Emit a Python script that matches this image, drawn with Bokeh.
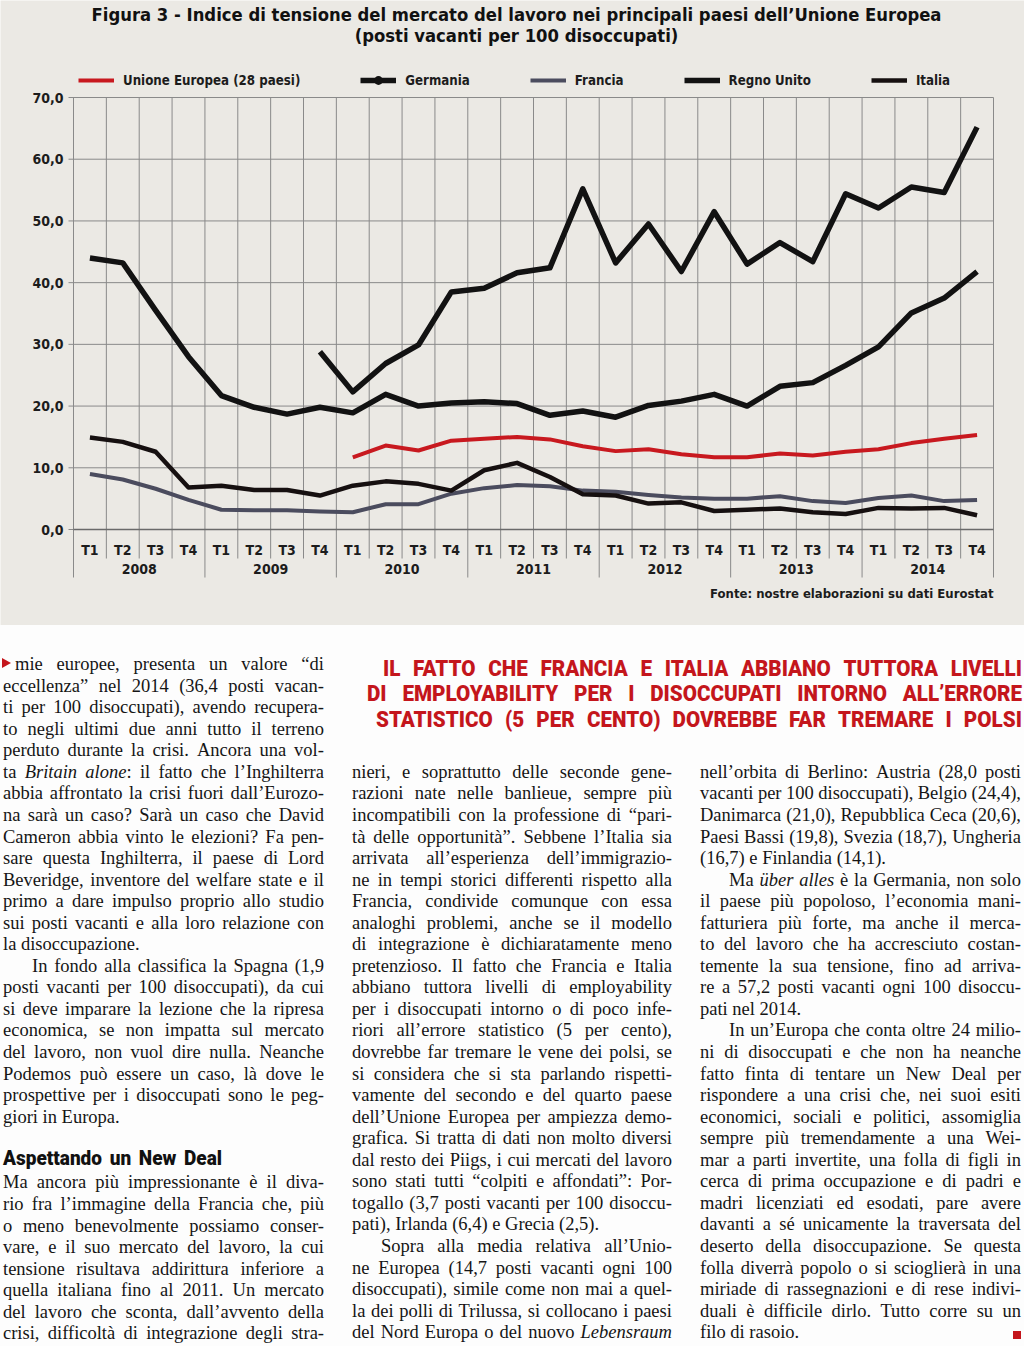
import re
from bokeh.plotting import figure
from bokeh.models import Range1d, Legend, LegendItem, Div
from bokeh.layouts import column
from bokeh.core.properties import value
from bokeh.embed import file_html
from bokeh.resources import INLINE

# ---------------- data ----------------
years = ["2008", "2009", "2010", "2011", "2012", "2013", "2014"]
quarters = ["T1", "T2", "T3", "T4"]
y_ticks = [0, 10, 20, 30, 40, 50, 60, 70]

eu = [None] * 8 + [11.7, 13.6, 12.8, 14.4, 14.7, 15.0, 14.6, 13.5, 12.7, 13.0,
                   12.2, 11.7, 11.7, 12.3, 12.0, 12.6, 13.0, 14.0, 14.7, 15.3]
germania = [None] * 7 + [28.8, 22.3, 26.9, 29.9, 38.5, 39.1, 41.6, 42.4, 55.2, 43.2,
                         49.5, 41.8, 51.5, 43.0, 46.5, 43.4, 54.4, 52.1, 55.5, 54.6, 65.2]
francia = [9.0, 8.1, 6.6, 4.8, 3.2, 3.1, 3.1, 2.9, 2.8, 4.1, 4.1, 5.8, 6.7, 7.2,
           7.0, 6.3, 6.1, 5.6, 5.2, 5.0, 5.0, 5.4, 4.6, 4.3, 5.1, 5.5, 4.6, 4.8]
regno_unito = [44.0, 43.2, 35.5, 28.0, 21.7, 19.8, 18.7, 19.8, 18.9, 21.9, 20.0, 20.5, 20.7, 20.4,
               18.5, 19.2, 18.2, 20.1, 20.8, 21.9, 20.0, 23.2, 23.8, 26.6, 29.6, 35.1, 37.5, 41.8]
italia = [14.9, 14.2, 12.6, 6.8, 7.1, 6.4, 6.4, 5.5, 7.1, 7.8, 7.4, 6.3, 9.6, 10.8,
          8.5, 5.7, 5.5, 4.2, 4.4, 3.0, 3.2, 3.4, 2.8, 2.5, 3.5, 3.4, 3.5, 2.3]

series_labels = ["Unione Europea (28 paesi)", "Germania", "Francia", "Regno Unito", "Italia"]

title_lines = ["Figura 3 - Indice di tensione del mercato del lavoro nei principali paesi dell’Unione Europea",
               "(posti vacanti per 100 disoccupati)"]
source_text = "Fonte: nostre elaborazioni su dati Eurostat"

# ---------------- geometry ----------------
W, H = 1024, 625
X_LEFT, X_RIGHT = 73, 993
Y_ZERO, Y_TOP = 529, 97
N = len(years) * len(quarters)
QW = (X_RIGHT - X_LEFT) / N
PPU = (Y_ZERO - Y_TOP) / 70.0


def dx(px):
    return (px - X_LEFT) / QW


def dy(py):
    return (Y_ZERO - py) / PPU


BG = "#ebe9e4"
GRID = "#8a8a8a"
INK = "#1c1c1c"
CF = "DejaVu Sans Condensed"

p = figure(width=W, height=H, x_range=Range1d(dx(0), dx(W)), y_range=Range1d(dy(H), dy(0)),
           output_backend="svg", toolbar_location=None, x_axis_location=None, y_axis_location=None,
           min_border=0, background_fill_color=BG, border_fill_color=BG, outline_line_color=None)
p.grid.visible = False

# horizontal grid + tick marks
p.segment(x0=[dx(68)] * len(y_ticks), x1=[N] * len(y_ticks), y0=y_ticks, y1=y_ticks,
          line_color=GRID, line_width=1)
# vertical quarter / year separators
bounds = list(range(N + 1))
p.segment(x0=bounds, x1=bounds, y0=[dy(577) if b % 4 == 0 else dy(558) for b in bounds],
          y1=[70] * len(bounds), line_color=GRID, line_width=1)
p.segment(x0=[0], x1=[N], y0=[0], y1=[0], line_color="#6a6a6a", line_width=1.6)

# y labels
p.text(x=[dx(63)] * len(y_ticks), y=y_ticks, text=[f"{v:.1f}".replace(".", ",") for v in y_ticks],
       text_font=value(CF), text_font_size="14px", text_font_style="bold", text_align="right",
       text_baseline="middle", text_color=INK)
# quarter labels and years
qx = [i + 0.5 for i in range(N)]
p.text(x=qx, y=[dy(549)] * N, text=[quarters[i % 4] for i in range(N)], text_font=value(CF),
       text_font_size="14px", text_font_style="bold", text_align="center", text_baseline="middle",
       text_color=INK)
p.text(x=[4 * k + 2 for k in range(len(years))], y=[dy(568)] * len(years), text=years,
       text_font=value(CF), text_font_size="14px", text_font_style="bold", text_align="center",
       text_baseline="middle", text_color=INK)
# title
p.text(x=[dx(516)] * 2, y=[dy(14), dy(35)], text=title_lines, text_font=value(CF),
       text_font_size="18.3px", text_font_style="bold", text_align="center", text_baseline="middle",
       text_color="#111111")
# source
p.text(x=[dx(993)], y=[dy(593)], text=[source_text], text_font=value(CF), text_font_size="13px",
       text_font_style="bold", text_align="right", text_baseline="middle", text_color=INK)


def pts(vals):
    xs = [i + 0.5 for i, v in enumerate(vals) if v is not None]
    ys = [v for v in vals if v is not None]
    return xs, ys


r_fr = p.line(*pts(francia), line_color="#4b4c5e", line_width=4, line_join="round")
r_it = p.line(*pts(italia), line_color="#161010", line_width=4.5, line_join="round")
r_eu = p.line(*pts(eu), line_color="#c8191f", line_width=4, line_join="round")
r_uk = p.line(*pts(regno_unito), line_color="#121212", line_width=5.5, line_join="round")
r_de = p.line(*pts(germania), line_color="#121212", line_width=5.5, line_join="round")
r_de_m = p.scatter(*pts(germania), size=0, marker="circle", fill_color="#121212", line_color=None)

legend = Legend(items=[LegendItem(label=series_labels[0], renderers=[r_eu]),
                       LegendItem(label=series_labels[1], renderers=[r_de, r_de_m]),
                       LegendItem(label=series_labels[2], renderers=[r_fr]),
                       LegendItem(label=series_labels[3], renderers=[r_uk]),
                       LegendItem(label=series_labels[4], renderers=[r_it])],
                orientation="horizontal", location=(78, H - 91), glyph_width=36, glyph_height=22,
                label_height=22, label_standoff=9, spacing=60, padding=0, margin=0,
                border_line_color=None, background_fill_alpha=0,
                label_text_font=CF, label_text_font_size="13.2px", label_text_font_style="bold",
                label_text_color=INK)
p.add_layout(legend)

# ---------------- article text ----------------
left_col = [
    ("mie europee, presenta un valore “di", "j"),
    ("eccellenza” nel 2014 (36,4 posti vacan-", "j"),
    ("ti per 100 disoccupati), avendo recupera-", "j"),
    ("to negli ultimi due anni tutto il terreno", "j"),
    ("perduto durante la crisi. Ancora una vol-", "j"),
    ("ta _Britain_ _alone_: il fatto che l’Inghilterra", "j"),
    ("abbia affrontato la crisi fuori dall’Eurozo-", "j"),
    ("na sarà un caso? Sarà un caso che David", "j"),
    ("Cameron abbia vinto le elezioni? Fa pen-", "j"),
    ("sare questa Inghilterra, il paese di Lord", "j"),
    ("Beveridge, inventore del welfare state e il", "j"),
    ("primo a dare impulso proprio allo studio", "j"),
    ("sui posti vacanti e alla loro relazione con", "j"),
    ("la disoccupazione.", "l"),
    ("In fondo alla classifica la Spagna (1,9", "ij"),
    ("posti vacanti per 100 disoccupati), da cui", "j"),
    ("si deve imparare la lezione che la ripresa", "j"),
    ("economica, se non impatta sul mercato", "j"),
    ("del lavoro, non vuol dire nulla. Neanche", "j"),
    ("Podemos può essere un caso, là dove le", "j"),
    ("prospettive per i disoccupati sono le peg-", "j"),
    ("giori in Europa.", "l"),
]
left_col_2 = [
    ("Ma ancora più impressionante è il diva-", "j"),
    ("rio fra l’immagine della Francia che, più", "j"),
    ("o meno benevolmente possiamo conser-", "j"),
    ("vare, e il suo mercato del lavoro, la cui", "j"),
    ("tensione risultava addirittura inferiore a", "j"),
    ("quella italiana fino al 2011. Un mercato", "j"),
    ("del lavoro che sconta, dall’avvento della", "j"),
    ("crisi, difficoltà di integrazione degli stra-", "j"),
]
mid_col = [
    ("nieri, e soprattutto delle seconde gene-", "j"),
    ("razioni nate nelle banlieue, sempre più", "j"),
    ("incompatibili con la professione di “pari-", "j"),
    ("tà delle opportunità”. Sebbene l’Italia sia", "j"),
    ("arrivata all’esperienza dell’immigrazio-", "j"),
    ("ne in tempi storici differenti rispetto alla", "j"),
    ("Francia, condivide comunque con essa", "j"),
    ("analoghi problemi, anche se il modello", "j"),
    ("di integrazione è dichiaratamente meno", "j"),
    ("pretenzioso. Il fatto che Francia e Italia", "j"),
    ("abbiano tuttora livelli di employability", "j"),
    ("per i disoccupati intorno o di poco infe-", "j"),
    ("riori all’errore statistico (5 per cento),", "j"),
    ("dovrebbe far tremare le vene dei polsi, se", "j"),
    ("si considera che si sta parlando rispetti-", "j"),
    ("vamente del secondo e del quarto paese", "j"),
    ("dell’Unione Europea per ampiezza demo-", "j"),
    ("grafica. Si tratta di dati non molto diversi", "j"),
    ("dal resto dei Piigs, i cui mercati del lavoro", "j"),
    ("sono stati tutti “colpiti e affondati”: Por-", "j"),
    ("togallo (3,7 posti vacanti per 100 disoccu-", "j"),
    ("pati), Irlanda (6,4) e Grecia (2,5).", "l"),
    ("Sopra alla media relativa all’Unio-", "ij"),
    ("ne Europea (14,7 posti vacanti ogni 100", "j"),
    ("disoccupati), simile come non mai a quel-", "j"),
    ("la dei polli di Trilussa, si collocano i paesi", "j"),
    ("del Nord Europa o del nuovo _Lebensraum_", "j"),
]
right_col = [
    ("nell’orbita di Berlino: Austria (28,0 posti", "j"),
    ("vacanti per 100 disoccupati), Belgio (24,4),", "j"),
    ("Danimarca (21,0), Repubblica Ceca (20,6),", "j"),
    ("Paesi Bassi (19,8), Svezia (18,7), Ungheria", "j"),
    ("(16,7) e Finlandia (14,1).", "l"),
    ("Ma _über_ _alles_ è la Germania, non solo", "ij"),
    ("il paese più popoloso, l’economia mani-", "j"),
    ("fatturiera più forte, ma anche il merca-", "j"),
    ("to del lavoro che ha accresciuto costan-", "j"),
    ("temente la sua tensione, fino ad arriva-", "j"),
    ("re a 57,2 posti vacanti ogni 100 disoccu-", "j"),
    ("pati nel 2014.", "l"),
    ("In un’Europa che conta oltre 24 milio-", "ij"),
    ("ni di disoccupati e che non ha neanche", "j"),
    ("fatto finta di tentare un New Deal per", "j"),
    ("rispondere a una crisi che, nei suoi esiti", "j"),
    ("economici, sociali e politici, assomiglia", "j"),
    ("sempre più tremendamente a una Wei-", "j"),
    ("mar a parti invertite, una folla di figli in", "j"),
    ("cerca di prima occupazione e di padri e", "j"),
    ("madri licenziati ed esodati, pare avere", "j"),
    ("davanti a sé unicamente la traversata del", "j"),
    ("deserto della disoccupazione. Se questa", "j"),
    ("folla diverrà popolo o si scioglierà in una", "j"),
    ("miriade di rassegnazioni e di rese indivi-", "j"),
    ("duali è difficile dirlo. Tutto corre su un", "j"),
    ("filo di rasoio.", "l"),
]
subhead = "Aspettando un New Deal"
pull_quote = ["IL FATTO CHE FRANCIA E ITALIA ABBIANO TUTTORA LIVELLI",
              "DI EMPLOYABILITY PER I DISOCCUPATI INTORNO ALL’ERRORE",
              "STATISTICO (5 PER CENTO) DOVREBBE FAR TREMARE I POLSI"]

TOP0 = H
FS = 18.5
LH = 21.55
XOFF = 10.9
RED = "#c4161c"


def words(t):
    return re.sub(r"_(.+?)_", r"<i>\1</i>", t)


def line_div(t, kind, left, right, center):
    top = center - TOP0 - XOFF
    l = left + (29 if kind.startswith("i") else 0)
    w = right - l
    if kind.endswith("j"):
        spans = "".join(f"<span>{words(wd)}</span>" for wd in t.split(" "))
        return (f'<div style="position:absolute;left:{l}px;top:{top:.1f}px;width:{w}px;height:{LH}px;'
                f'line-height:{LH}px;display:flex;justify-content:space-between;white-space:nowrap;">{spans}</div>')
    return (f'<div style="position:absolute;left:{l}px;top:{top:.1f}px;height:{LH}px;line-height:{LH}px;'
            f'white-space:nowrap;">{words(t)}</div>')


def scaled_line(t, left, right, top, s, style):
    w = (right - left) / s
    spans = "".join(f"<span>{wd}</span>" for wd in t.split(" "))
    return (f'<div style="position:absolute;left:{left}px;top:{top - TOP0:.1f}px;width:{w:.1f}px;'
            f'transform:scaleX({s});transform-origin:0 0;display:flex;justify-content:space-between;'
            f'white-space:nowrap;{style}">{spans}</div>')


parts = []
for k, (t, kind) in enumerate(left_col):
    lft = 15 if k == 0 else 3
    parts.append(line_div(t, kind, lft, 324, 665 + LH * k))
for k, (t, kind) in enumerate(left_col_2):
    parts.append(line_div(t, kind, 3, 324, 1183.3 + LH * k))
for k, (t, kind) in enumerate(mid_col):
    parts.append(line_div(t, kind, 352, 672, 772.7 + LH * k))
for k, (t, kind) in enumerate(right_col):
    parts.append(line_div(t, kind, 700, 1021, 772.7 + LH * k))

head_style = "font-family:Roboto,sans-serif;font-weight:900;"
parts.append(scaled_line(subhead, 3, 222, 1146, 0.95, head_style + "font-size:20px;line-height:25px;color:#111;"))
for (t, l, c) in zip(pull_quote, [383, 367, 376], [668, 693.5, 719]):
    parts.append(scaled_line(t, l, 1022, c - 12.2, 0.96,
                             head_style + f"font-size:21.5px;line-height:25px;height:25px;color:{RED};"))

# red bullet triangle and end square
parts.append(f'<div style="position:absolute;left:2px;top:{663 - 5 - TOP0}px;width:0;height:0;'
             f'border-left:9px solid {RED};border-top:5px solid transparent;border-bottom:5px solid transparent;"></div>')
parts.append(f'<div style="position:absolute;left:1013px;top:{1331 - TOP0}px;width:8px;height:8px;background:{RED};"></div>')

html = (f'<div style="position:relative;width:{W}px;height:{1346 - H}px;overflow:hidden;background:#fdfdfd;'
        f'font-family:\'Liberation Serif\',serif;font-size:{FS}px;color:#151515;">' + "".join(parts) + "</div>")
article = Div(text=html, width=W, height=1346 - H, margin=0)

layout = column(p, article, spacing=0)
open("out.html", "w").write(file_html(layout, INLINE))
